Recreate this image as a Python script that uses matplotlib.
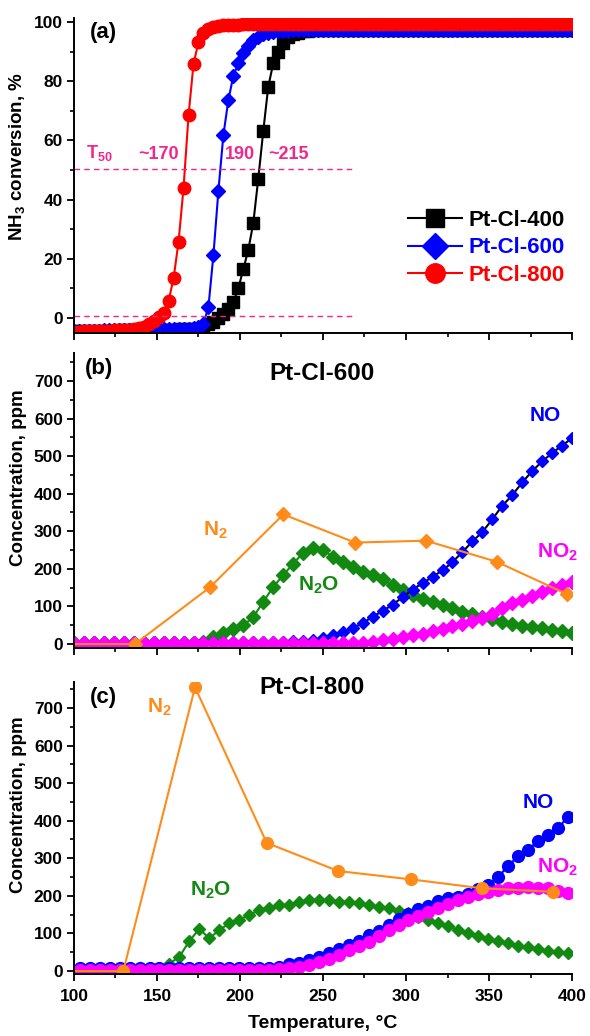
import numpy as np
import matplotlib
matplotlib.use("Agg")
import matplotlib.pyplot as plt
from matplotlib.lines import Line2D
from matplotlib.ticker import MultipleLocator

plt.rcParams['font.family'] = ['Liberation Sans', 'DejaVu Sans']
plt.rcParams['font.weight'] = 'bold'
plt.rcParams['axes.labelweight'] = 'bold'
plt.rcParams['mathtext.fontset'] = 'custom'
plt.rcParams['mathtext.rm'] = 'Liberation Sans:bold'
plt.rcParams['mathtext.it'] = 'Liberation Sans:bold'
plt.rcParams['mathtext.bf'] = 'Liberation Sans:bold'

# ---- panel (a): NH3 conversion, %  (sampled every 3 C) ----
T_a = np.arange(100, 401, 3)
pt400 = [
    -4.5, -4.5, -4.5, -4.4, -4.4, -4.4, -4.3, -4.3, -4.3, -4.2,
    -4.2, -4.2, -4.1, -4.1, -4.1, -4.0, -4.0, -4.0, -3.9, -3.9,
    -3.9, -3.8, -3.8, -3.8, -3.8, -3.8, -3.5, -2.2, -1.4, 0.0,
    1.5, 3.0, 5.5, 10.0, 16.5, 23.0, 32.0, 47.0, 63.0, 78.0,
    86.0, 90.0, 93.0, 94.8, 95.8, 96.4, 96.8, 97.0, 97.2, 97.3,
    97.3, 97.3, 97.3, 97.3, 97.3, 97.3, 97.3, 97.3, 97.3, 97.3,
    97.3, 97.3, 97.3, 97.3, 97.3, 97.3, 97.3, 97.3, 97.3, 97.3,
    97.3, 97.3, 97.3, 97.3, 97.3, 97.3, 97.3, 97.3, 97.3, 97.3,
    97.3, 97.3, 97.3, 97.3, 97.3, 97.3, 97.3, 97.3, 97.3, 97.3,
    97.3, 97.3, 97.3, 97.3, 97.3, 97.3, 97.3, 97.3, 97.3, 97.3,
    97.3,
]
pt600 = [
    -4.4, -4.4, -4.4, -4.3, -4.3, -4.3, -4.2, -4.2, -4.2, -4.1,
    -4.1, -4.1, -4.0, -4.0, -4.0, -3.9, -3.9, -3.9, -3.8, -3.8,
    -3.8, -3.7, -3.7, -3.6, -3.5, -3.2, -2.0, 3.8, 21.3, 43.0,
    61.8, 73.6, 81.8, 86.0, 89.5, 92.0, 93.8, 95.0, 95.8, 96.3,
    96.6, 96.8, 97.0, 97.1, 97.2, 97.3, 97.3, 97.4, 97.4, 97.4,
    97.4, 97.4, 97.4, 97.4, 97.4, 97.4, 97.4, 97.4, 97.4, 97.4,
    97.4, 97.4, 97.4, 97.4, 97.4, 97.4, 97.4, 97.4, 97.4, 97.4,
    97.4, 97.4, 97.4, 97.4, 97.4, 97.4, 97.4, 97.4, 97.4, 97.4,
    97.4, 97.4, 97.4, 97.4, 97.4, 97.4, 97.4, 97.4, 97.4, 97.4,
    97.4, 97.4, 97.4, 97.4, 97.4, 97.4, 97.4, 97.4, 97.4, 97.4,
    97.4,
]
pt800 = [
    -4.6, -4.6, -4.5, -4.5, -4.4, -4.4, -4.3, -4.3, -4.2, -4.1,
    -4.0, -3.9, -3.7, -3.4, -3.0, -2.2, -1.0, 0.2, 1.8, 5.8,
    13.4, 25.8, 44.0, 68.4, 85.8, 93.2, 96.2, 97.5, 98.2, 98.6,
    98.8, 99.0, 99.1, 99.1, 99.2, 99.2, 99.2, 99.2, 99.3, 99.3,
    99.3, 99.3, 99.3, 99.3, 99.3, 99.3, 99.3, 99.3, 99.3, 99.3,
    99.3, 99.3, 99.3, 99.3, 99.3, 99.3, 99.3, 99.3, 99.3, 99.3,
    99.3, 99.3, 99.3, 99.3, 99.3, 99.3, 99.3, 99.3, 99.3, 99.3,
    99.3, 99.3, 99.3, 99.3, 99.3, 99.3, 99.3, 99.3, 99.3, 99.3,
    99.3, 99.3, 99.3, 99.3, 99.3, 99.3, 99.3, 99.3, 99.3, 99.3,
    99.3, 99.3, 99.3, 99.3, 99.3, 99.3, 99.3, 99.3, 99.3, 99.3,
    99.3,
]
samples_a = ["Pt-Cl-400", "Pt-Cl-600", "Pt-Cl-800"]
t50_labels = ["~170", "190", "~215"]

# ---- panel (b): Pt-Cl-600 products, ppm (sampled every 6 C) ----
T_b = np.arange(100, 401, 6)
n2o_b = [
    3, 3, 3, 3, 3, 3, 3, 3, 3, 3,
    3, 3, 3, 5, 20, 29, 40, 50, 72, 112,
    152, 183, 214, 242, 256, 250, 232, 219, 206, 192,
    183, 172, 157, 144, 130, 121, 112, 104, 95, 86,
    80, 73, 66, 58, 54, 49, 45, 42, 38, 34,
    30,
]
no_b = [
    6, 6, 6, 6, 6, 6, 6, 6, 6, 6,
    6, 6, 6, 6, 6, 6, 6, 6, 6, 6,
    6, 6, 7, 8, 11, 15, 23, 31, 42, 56,
    73, 88, 105, 125, 145, 162, 179, 196, 218, 245,
    273, 298, 332, 368, 396, 430, 460, 486, 508, 528,
    548,
]
no2_b = [
    4, 4, 4, 4, 4, 4, 4, 4, 4, 4,
    4, 4, 4, 4, 4, 4, 4, 4, 4, 4,
    4, 4, 4, 4, 4, 4, 4, 4, 4, 4,
    6, 10, 14, 18, 23, 28, 34, 41, 47, 54,
    60, 68, 80, 97, 108, 118, 128, 139, 148, 157,
    166,
]
T_n2_b = [100, 136.7, 181.9, 226.1, 269.3, 312.0, 354.6, 396.8]
n2_b = [0, 0, 151, 345, 270, 275, 219, 133]

# ---- panel (c): Pt-Cl-800 products, ppm ----
T_c = np.arange(103.5, 400, 6)
n2o_c = [
    3, 3, 3, 4, 4, 5, 5, 6, 9, 20,
    38, 80, 112, 87, 109, 127, 136, 149, 162, 169,
    175, 176, 184, 189, 190, 189, 185, 184, 180, 176,
    171, 167, 161, 155, 145, 136, 128, 119, 108, 101,
    92, 85, 79, 74, 67, 63, 58, 54, 51, 49,
]
no_c = [
    7, 7, 7, 7, 7, 7, 7, 7, 7, 7,
    7, 7, 7, 7, 7, 7, 7, 7, 7, 7,
    12, 18, 21, 29, 37, 48, 59, 70, 81, 95,
    107, 123, 138, 152, 165, 174, 187, 194, 197, 206,
    218, 228, 250, 280, 305, 323, 345, 362, 380, 410,
]
no2_c = [
    4, 4, 4, 4, 4, 4, 4, 4, 4, 4,
    4, 4, 4, 4, 4, 4, 4, 4, 4, 4,
    6, 8, 11, 16, 24, 33, 44, 56, 66, 78,
    93, 108, 122, 135, 147, 157, 168, 179, 189, 197,
    205, 211, 216, 220, 222, 223, 222, 220, 214, 207,
]
T_n2_c = [100, 129.7, 172.9, 216.1, 259.2, 302.8, 346.0, 388.7]
n2_c = [0, 0, 755, 341, 266, 244, 220, 211]

PINK = '#F0288C'
GREEN = '#128A12'
ORANGE = '#FF8C1A'
MAG = '#FF00FF'
BLUE = '#0000FF'


def style(ax, ymaj, ymin, xlabels):
    for s in ['top', 'right']:
        ax.spines[s].set_visible(False)
    for s in ['left', 'bottom']:
        ax.spines[s].set_linewidth(1.4)
    ax.set_xlim(100, 400)
    ax.xaxis.set_major_locator(MultipleLocator(50))
    ax.xaxis.set_minor_locator(MultipleLocator(25))
    ax.yaxis.set_major_locator(MultipleLocator(ymaj))
    ax.yaxis.set_minor_locator(MultipleLocator(ymin))
    ax.tick_params(which='major', direction='out', length=5, width=1.3, labelsize=12.5, pad=3)
    ax.tick_params(which='minor', direction='out', length=3, width=1.2)
    ax.tick_params(axis='x', which='major', pad=6)
    if not xlabels:
        ax.tick_params(labelbottom=False)


fig = plt.figure(figsize=(5.9, 10.36), dpi=100)
ax1 = fig.add_axes([0.1254, 0.6786, 0.8441, 0.3041])
ax2 = fig.add_axes([0.1254, 0.3745, 0.8441, 0.2848])
ax3 = fig.add_axes([0.1254, 0.0598, 0.8441, 0.2819])

# (a)
ax1.plot(T_a, pt400, color='k', marker='s', ms=8, lw=1.5)
ax1.plot(T_a, pt600, color=BLUE, marker='D', ms=6.8, lw=1.5)
ax1.plot(T_a, pt800, color='#FF0000', marker='o', ms=9, lw=1.5)
ax1.plot([100, 270], [50.2, 50.2], color=PINK, lw=1, ls=(0, (4, 3)))
ax1.plot([100, 270], [0.5, 0.5], color=PINK, lw=1, ls=(0, (4, 3)))
ax1.set_ylim(-5.07, 101.35)
style(ax1, 20, 10, False)
ax1.set_ylabel(r'NH$_3$ conversion, %', fontsize=13.5, fontweight='bold')
ax1.yaxis.set_label_coords(-0.095, 0.56)
ax1.text(109.6, 96.3, '(a)', fontsize=16, va='center')
ax1.text(107.5, 52.3, r'T$_{50}$', fontsize=13, color=PINK, va='bottom')
for xt, lab in zip([138.6, 191.0, 217.0], t50_labels):
    ax1.text(xt, 52.3, lab, fontsize=13, color=PINK, va='bottom')
handles = [
    Line2D([], [], color='k', marker='s', ms=13, lw=1.5),
    Line2D([], [], color=BLUE, marker='D', ms=13.5, lw=1.5),
    Line2D([], [], color='#FF0000', marker='o', ms=14, lw=1.5),
]
ax1.legend(handles, samples_a, loc='center right', bbox_to_anchor=(0.985, 0.27),
           frameon=False, fontsize=16, handlelength=2.4, handletextpad=0.3,
           labelspacing=0.3, borderpad=0, borderaxespad=0, labelcolor='linecolor')

# (b)
ax2.plot(T_b, n2o_b, color=GREEN, marker='D', ms=7, lw=1.5)
ax2.plot(T_b, no_b, color='k', marker='D', ms=6.5, mfc=BLUE, mec=BLUE, lw=1.5)
ax2.plot(T_b, no2_b, color=MAG, marker='D', ms=7, lw=1.5)
ax2.plot(T_n2_b, n2_b, color=ORANGE, marker='D', ms=7, lw=1.5, markevery=slice(1, None))
ax2.set_ylim(-10.6, 774.5)
style(ax2, 100, 50, False)
ax2.set_ylabel('Concentration, ppm', fontsize=13.5, fontweight='bold')
ax2.yaxis.set_label_coords(-0.095, 0.578)
ax2.text(106.6, 734, '(b)', fontsize=16, va='center')
ax2.text(249.7, 720, 'Pt-Cl-600', fontsize=17.5, ha='center', va='center')
ax2.text(177.7, 303, r'N$_2$', fontsize=15, color=ORANGE, va='center')
ax2.text(235.0, 157, r'N$_2$O', fontsize=15, color=GREEN, va='center')
ax2.text(374.7, 609, 'NO', fontsize=15, color=BLUE, va='center')
ax2.text(379.0, 245, r'NO$_2$', fontsize=15, color=MAG, va='center')

# (c)
ax3.plot(T_c, n2o_c, color=GREEN, marker='D', ms=6.5, lw=1.5)
ax3.plot(T_c, no_c, color=BLUE, marker='o', ms=8.5, lw=1.5)
ax3.plot(T_c, no2_c, color=MAG, marker='o', ms=8.5, lw=1.5)
ax3.plot(T_n2_c, n2_c, color=ORANGE, marker='o', ms=8.5, lw=1.5, markevery=slice(1, None))
ax3.set_ylim(-8, 769)
style(ax3, 100, 50, True)
ax3.set_ylabel('Concentration, ppm', fontsize=13.5, fontweight='bold')
ax3.yaxis.set_label_coords(-0.095, 0.579)
ax3.set_xlabel('Temperature, °C', fontsize=14, fontweight='bold', va='top')
ax3.xaxis.set_label_coords(0.499, -0.14)
ax3.text(109.6, 729, '(c)', fontsize=16, va='center')
ax3.text(243.4, 755, 'Pt-Cl-800', fontsize=17.5, ha='center', va='center')
ax3.text(144.0, 702, r'N$_2$', fontsize=15, color=ORANGE, va='center')
ax3.text(170.0, 215, r'N$_2$O', fontsize=15, color=GREEN, va='center')
ax3.text(370.5, 449, 'NO', fontsize=15, color=BLUE, va='center')
ax3.text(379.0, 277, r'NO$_2$', fontsize=15, color=MAG, va='center')

fig.savefig('out.png', dpi=100)
